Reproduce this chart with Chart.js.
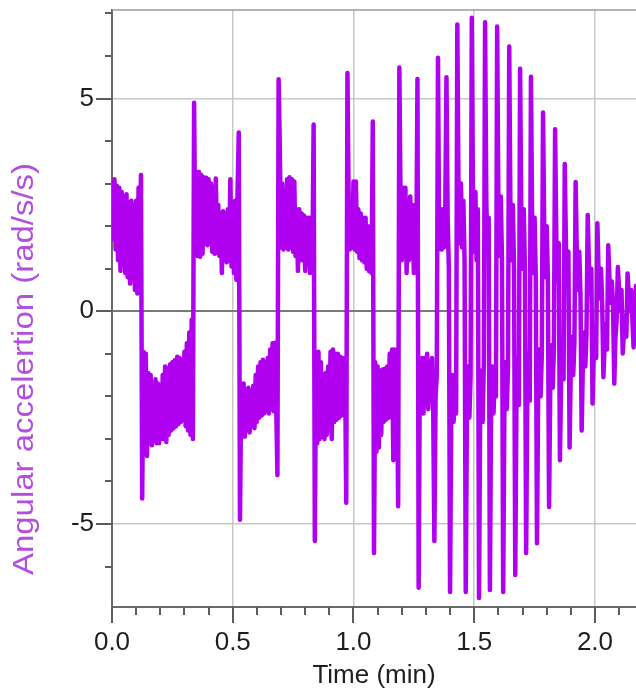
<!DOCTYPE html>
<html><head><meta charset="utf-8">
<script src="https://cdn.jsdelivr.net/npm/chart.js@4/dist/chart.umd.min.js"></script>
<style>html,body{margin:0;padding:0;background:#fff;}#wrap{width:636px;height:693px;position:relative;}</style>
</head><body><div id="wrap"><canvas id="c" width="636" height="693"></canvas></div>
<script>
// ---- data (time in minutes, angular acceleration in rad/s/s) ----
const squareTime = [
0.000,0.005,0.010,0.015,0.020,0.025,0.030,0.035,0.040,0.045,
0.050,0.055,0.060,0.065,0.070,0.075,0.080,0.085,0.090,0.095,
0.100,0.105,0.110,0.115,0.120,0.125,0.130,0.135,0.140,0.145,
0.150,0.155,0.160,0.165,0.170,0.175,0.180,0.185,0.190,0.195,
0.200,0.205,0.210,0.215,0.220,0.225,0.230,0.235,0.240,0.245,
0.250,0.255,0.260,0.265,0.270,0.275,0.280,0.285,0.290,0.295,
0.300,0.305,0.310,0.315,0.320,0.325,0.330,0.335,0.340,0.345,
0.350,0.355,0.360,0.365,0.370,0.375,0.380,0.385,0.390,0.395,
0.400,0.405,0.410,0.415,0.420,0.425,0.430,0.435,0.440,0.445,
0.450,0.455,0.460,0.465,0.470,0.475,0.480,0.485,0.490,0.495,
0.500,0.505,0.510,0.515,0.520,0.525,0.530,0.535,0.540,0.545,
0.550,0.555,0.560,0.565,0.570,0.575,0.580,0.585,0.590,0.595,
0.600,0.605,0.610,0.615,0.620,0.625,0.630,0.635,0.640,0.645,
0.650,0.655,0.660,0.665,0.670,0.675,0.680,0.685,0.690,0.695,
0.700,0.705,0.710,0.715,0.720,0.725,0.730,0.735,0.740,0.745,
0.750,0.755,0.760,0.765,0.770,0.775,0.780,0.785,0.790,0.795,
0.800,0.805,0.810,0.815,0.820,0.825,0.830,0.835,0.840,0.845,
0.850,0.855,0.860,0.865,0.870,0.875,0.880,0.885,0.890,0.895,
0.900,0.905,0.910,0.915,0.920,0.925,0.930,0.935,0.940,0.945,
0.950,0.955,0.960,0.965,0.970,0.975,0.980,0.985,0.990,0.995,
1.000,1.005,1.010,1.015,1.020,1.025,1.030,1.035,1.040,1.045,
1.050,1.055,1.060,1.065,1.070,1.075,1.080,1.085,1.090,1.095,
1.100,1.105,1.110,1.115,1.120,1.125,1.130,1.135,1.140,1.145,
1.150,1.155,1.160,1.165,1.170,1.175,1.180,1.185,1.190,1.195,
1.200,1.205,1.210,1.215,1.220,1.225,1.230,1.235,1.240,1.245,
1.250,1.255,1.260,1.265,1.270,1.275,1.280,1.285,1.290,1.295,
1.300,1.305,1.310,1.315,1.320,1.325,1.330
];
const squareAccel = [
3.05,1.7,3.1,1.45,2.95,1.2,2.9,0.95,2.8,1.1,
2.7,0.9,2.75,0.8,2.55,0.65,2.6,0.75,2.5,0.5,
2.6,0.42,2.9,0.9,3.2,-4.4,-0.95,-3.3,-1.0,-3.4,
-1.45,-3.1,-1.5,-3.15,-1.8,-3.05,-1.6,-3.1,-1.7,-3.1,
-1.75,-3.0,-1.5,-3.0,-1.3,-3.07,-1.35,-2.9,-1.25,-2.8,
-1.2,-2.75,-1.15,-2.7,-1.07,-2.65,-1.1,-2.6,-1.14,-2.55,
-0.95,-2.7,-0.75,-2.8,-0.5,-2.9,-0.2,-3.0,4.9,1.4,
3.28,1.3,3.27,1.28,3.2,1.35,3.15,1.6,3.14,1.55,
3.1,1.6,3.0,1.4,2.9,1.35,3.12,1.37,2.5,1.3,
2.3,0.9,2.35,1.2,2.3,1.15,2.4,1.2,3.1,1.05,
2.55,0.9,2.6,0.74,2.8,4.2,-4.9,-1.9,-2.9,-1.7,
-2.95,-1.85,-2.8,-1.8,-2.85,-1.9,-2.7,-1.75,-2.75,-1.5,
-2.6,-1.3,-2.5,-1.2,-2.45,-1.14,-2.4,-1.2,-2.35,-1.1,
-2.4,-0.9,-2.3,-0.75,-2.35,-0.74,-2.2,-3.85,5.45,3.8,
1.5,3.0,1.45,2.8,1.5,3.1,1.45,3.15,1.5,3.1,
1.4,3.05,1.3,2.4,0.95,2.4,1.2,2.3,1.2,2.25,
0.95,2.2,1.2,2.2,0.9,2.2,1.2,4.39,-5.4,-1.0,
-3.1,-0.95,-3.0,-1.2,-2.95,-1.5,-3.0,-1.45,-2.9,-1.3,
-2.8,-0.95,-3.0,-0.9,-2.6,-1.0,-2.55,-1.0,-2.5,-1.07,
-2.45,-1.1,-2.4,-1.2,-4.5,5.6,2.6,1.45,2.55,1.5,
3.05,1.45,3.05,1.4,2.4,1.25,2.3,1.2,2.2,1.15,
2.2,1.0,2.0,0.94,1.9,0.9,4.46,-5.68,-1.2,-3.3,
-1.3,-3.2,-1.4,-2.9,-1.37,-2.6,-1.35,-2.55,-1.3,-2.5,
-1.0,-2.4,-0.9,-3.5,-0.9,-2.4,-1.0,-4.58,5.73,2.5,
1.2,2.9,1.3,2.9,0.9,2.6,1.2,2.7,1.25,2.5,
0.9,2.4,1.1,5.46,-6.5,-1.2,-2.3,-1.1,-2.4,-1.1,
-2.2,-1.0,-2.3,-1.2,-2.1,-1.1,-2.2
];
const swingTime = [
1.335,1.340,1.345,
1.350,1.355,1.360,1.365,1.370,1.375,1.380,1.385,1.390,1.395,
1.400,1.405,1.410,1.415,1.420,1.425,1.430,1.435,1.440,1.445,
1.450,1.455,1.460,1.465,1.470,1.475,1.480,1.485,1.490,1.495,
1.500,1.505,1.510,1.515,1.520,1.525,1.530,1.535,1.540,1.545,
1.550,1.555,1.560,1.565,1.570,1.575,1.580,1.585,1.590,1.595,
1.600,1.605,1.610,1.615,1.620,1.625,1.630,1.635,1.640,1.645,
1.650,1.655,1.660,1.665,1.670,1.675,1.680,1.685,1.690,1.695,
1.700,1.705,1.710,1.715,1.720,1.725,1.730,1.735,1.740,1.745,
1.750,1.755,1.760,1.765,1.770,1.775,1.780,1.785,1.790,1.795,
1.800,1.805,1.810,1.815,1.820,1.825,1.830,1.835,1.840,1.845,
1.850,1.855,1.860,1.865,1.870,1.875,1.880,1.885,1.890,1.895,
1.900,1.905,1.910,1.915,1.920,1.925,1.930,1.935,1.940,1.945,
1.950,1.955,1.960,1.965,1.970,1.975,1.980,1.985,1.990,1.995,
2.000,2.005,2.010,2.015,2.020,2.025,2.030,2.035,2.040,2.045,
2.050,2.055,2.060,2.065,2.070,2.075,2.080,2.085,2.090,2.095,
2.100,2.105,2.110,2.115,2.120,2.125,2.130,2.135,2.140,2.145,
2.150,2.155,2.160,2.165,2.170
];
const swingAccel = [
-5.4,-2.0,-1.5,
5.96,1.5,2.4,1.45,2.4,1.5,2.3,5.5,2.2,1.0,
-6.6,-2.3,-1.5,-2.6,-1.6,-2.4,6.74,2.8,1.6,3.0,
1.5,2.6,1.2,-6.6,-2.2,-1.3,-2.5,-1.5,6.9,2.5,
1.4,2.8,1.2,2.4,-6.74,-2.0,-1.4,-2.6,-1.2,6.79,
2.6,1.4,2.2,-6.55,-2.1,-1.3,-2.4,-1.4,-2.0,6.69,
2.5,1.3,2.7,1.2,-6.6,-2.2,-1.2,-2.3,-1.3,6.22,
2.3,1.2,2.5,1.0,-6.2,-2.0,-1.1,-2.2,5.7,2.2,
1.0,2.4,1.0,-5.68,-1.9,-1.0,-2.1,5.51,2.0,0.9,
2.2,0.8,-5.45,-1.8,-0.9,-2.0,-1.0,4.67,1.9,0.8,
2.0,0.8,-4.6,-1.7,-0.8,-1.8,-0.9,4.28,1.7,0.7,
1.6,-3.5,-1.5,-0.7,-1.6,3.46,1.5,0.6,1.4,-3.2,
-1.3,-0.6,-1.5,-0.7,3.04,1.3,0.5,1.4,0.4,-2.8,
-1.2,-0.5,-1.3,-0.5,2.26,1.1,0.4,1.0,-2.17,-1.0,
-0.4,-1.1,2.07,0.9,0.3,1.0,0.2,-1.55,-0.8,-0.3,
-0.9,1.55,0.8,0.2,0.7,0.1,-1.7,-0.6,-0.2,1.04,
0.5,0.0,0.5,-0.99,-0.5,-0.1,-0.6,0.89,0.4,0.0,
0.5,-0.2,-0.85,-0.3,0.6
];
const xMajorTicks = [0, 0.5, 1.0, 1.5, 2.0];
const xMinorTicks = [0.1,0.2,0.3,0.4,0.6,0.7,0.8,0.9,1.1,1.2,1.3,1.4,1.6,1.7,1.8,1.9,2.1];
const yMajorTicks = [-5, 0, 5];
const yMinorTicks = [-6,-4,-3,-2,-1,1,2,3,4,6,7];
const xTitle = 'Time (min)';
const yTitle = 'Angular accelertion (rad/s/s)';

// ---- build points ----
const points = squareTime.map((t, k) => ({x: t, y: squareAccel[k]}))
  .concat(swingTime.map((t, k) => ({x: t, y: swingAccel[k]})));

const FONT = '"Liberation Sans", Arial, sans-serif';
const LINE = '#B000F0';

const decor = {
  id: 'decor',
  afterDraw(chart) {
    const {ctx, chartArea: a, scales: {x, y}} = chart;
    ctx.save();
    ctx.strokeStyle = '#5c5c5c';
    ctx.lineWidth = 2;
    ctx.beginPath();
    xMinorTicks.forEach(v => { const p = Math.round(x.getPixelForValue(v)); ctx.moveTo(p, a.bottom); ctx.lineTo(p, a.bottom + 8); });
    xMajorTicks.forEach(v => { const p = Math.round(x.getPixelForValue(v)); ctx.moveTo(p, a.bottom); ctx.lineTo(p, a.bottom + 16); });
    yMinorTicks.forEach(v => { const p = Math.round(y.getPixelForValue(v)); ctx.moveTo(a.left, p); ctx.lineTo(a.left - 7, p); });
    yMajorTicks.forEach(v => { const p = Math.round(y.getPixelForValue(v)); ctx.moveTo(a.left, p); ctx.lineTo(a.left - 16, p); });
    ctx.stroke();
    ctx.strokeStyle = '#9c9c9c';
    ctx.lineWidth = 1.5;
    ctx.beginPath();
    ctx.moveTo(a.left, a.top); ctx.lineTo(a.right, a.top);
    ctx.stroke();
    // y-axis title
    ctx.fillStyle = '#B24FE0';
    ctx.font = '29px ' + FONT;
    const w = ctx.measureText(yTitle).width;
    const target = 412;
    ctx.translate(25, 369);
    ctx.rotate(-Math.PI / 2);
    ctx.scale(target / w, 1);
    ctx.textAlign = 'center';
    ctx.textBaseline = 'middle';
    ctx.fillText(yTitle, 0, 0);
    ctx.restore();
  }
};

new Chart(document.getElementById('c').getContext('2d'), {
  type: 'line',
  data: { datasets: [{
    data: points,
    borderColor: LINE,
    borderWidth: 4.5,
    pointRadius: 0,
    tension: 0,
    fill: false,
    borderJoinStyle: 'round',
    borderCapStyle: 'round'
  }]},
  options: {
    responsive: false,
    animation: false,
    devicePixelRatio: 1,
    layout: { padding: { top: 10, right: 0, left: 0, bottom: 0 } },
    plugins: { legend: { display: false }, tooltip: { enabled: false } },
    scales: {
      x: {
        type: 'linear', min: 0, max: 2.17,
        afterFit(s) { s.height = 86; s.paddingLeft = 0; s.paddingRight = 0; },
        afterBuildTicks(s) { s.ticks = xMajorTicks.map(v => ({value: v})); },
        ticks: {
          callback: v => Number(v).toFixed(1),
          font: { family: FONT, size: 26 }, color: '#1e1e1e',
          padding: 20, maxRotation: 0, autoSkip: false
        },
        grid: {
          drawTicks: false,
          color: c => (c.tick && c.tick.value !== 0) ? '#c8c8c8' : 'rgba(0,0,0,0)',
          lineWidth: 1.5
        },
        border: { display: true, color: '#6a6a6a', width: 2 },
        title: { display: true, text: xTitle, color: '#1e1e1e', font: { family: FONT, size: 26 }, padding: { top: 0, bottom: 2 } }
      },
      y: {
        type: 'linear', min: -6.95, max: 7.08,
        afterFit(s) { s.width = 112; s.paddingTop = 0; s.paddingBottom = 0; },
        afterBuildTicks(s) { s.ticks = yMajorTicks.map(v => ({value: v})); },
        ticks: {
          callback: v => String(v),
          font: { family: FONT, size: 26 }, color: '#1e1e1e',
          padding: 18
        },
        grid: {
          drawTicks: false,
          color: c => (c.tick && c.tick.value === 0) ? '#7a7a7a' : '#c8c8c8',
          lineWidth: c => (c.tick && c.tick.value === 0) ? 2 : 1.5
        },
        border: { display: true, color: '#6a6a6a', width: 2 }
      }
    }
  },
  plugins: [decor]
});
</script>
</body></html>
